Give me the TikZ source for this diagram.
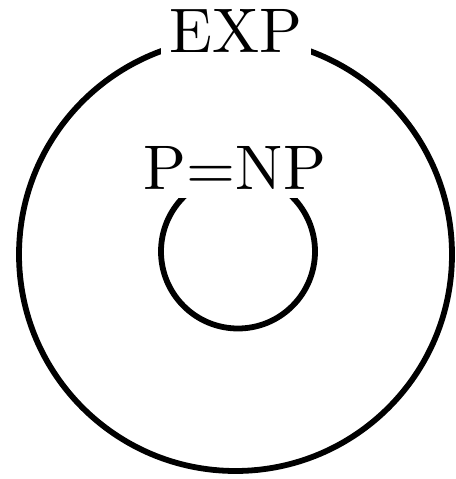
\documentclass[tikz,border=0pt]{standalone}
\begin{document}
\begin{tikzpicture}[x=1pt,y=1pt,
  ring/.style={circle, draw=black, line width=5.8pt, inner sep=0pt},
  lbl/.style={scale=6.3, fill=white, inner sep=1.3pt, anchor=base}]
\useasboundingbox (0,0) rectangle (455,479);
\node[ring, minimum size=433pt] (exp) at (235.5,224.5) {};
\node[ring, minimum size=154pt] (pnp) at (238,227.5) {};
\node[lbl] (explbl) at (236,426) {EXP};
\node[lbl] (pnplbl) at (235,289) {P=NP};
\end{tikzpicture}
\end{document}
